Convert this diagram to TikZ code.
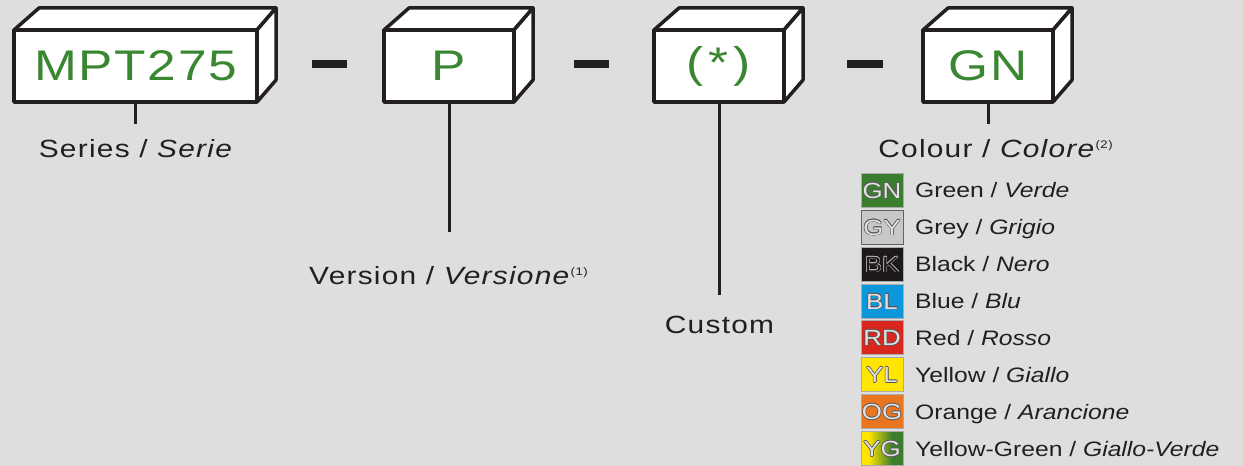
\documentclass[tikz,border=0pt]{standalone}
\usepackage{fontspec}
\setmainfont{Liberation Sans}[FakeStretch=1.18]
\newfontfamily\spacedfont{Liberation Sans}[FakeStretch=1.2,LetterSpace=5]
\newfontfamily\codefont{Liberation Sans}[FakeStretch=1.2,LetterSpace=4]
\usepackage{xcolor}
\usepackage{tikz}
\usetikzlibrary{shapes,positioning}

\definecolor{paper}{RGB}{222,222,222}
\definecolor{ink}{RGB}{35,31,32}
\definecolor{codegreen}{RGB}{58,135,50}
\definecolor{gncol}{RGB}{58,125,47}
\definecolor{gycol}{RGB}{200,200,200}
\definecolor{bkcol}{RGB}{28,25,24}
\definecolor{blcol}{RGB}{12,150,220}
\definecolor{rdcol}{RGB}{217,38,30}
\definecolor{ylcol}{RGB}{255,229,0}
\definecolor{ogcol}{RGB}{232,118,32}
\definecolor{swatchedge}{RGB}{170,170,170}
\definecolor{letterfill}{RGB}{225,225,225}

\pgfdeclarehorizontalshading{ygshade}{100bp}{color(0bp)=(ylcol); color(34bp)=(ylcol); color(62bp)=(gncol); color(100bp)=(gncol)}

% hollow letters: outline copies under the fill
\newcommand{\hcopy}[3]{\rlap{\kern#1\raisebox{#2}{#3}}}
\newcommand{\hollowtext}[3]{{\color{#1}\hcopy{.6bp}{0bp}{#3}\hcopy{-.6bp}{0bp}{#3}\hcopy{0bp}{.6bp}{#3}\hcopy{0bp}{-.6bp}{#3}\hcopy{.45bp}{.45bp}{#3}\hcopy{-.45bp}{.45bp}{#3}\hcopy{.45bp}{-.45bp}{#3}\hcopy{-.45bp}{-.45bp}{#3}}\textcolor{#2}{#3}}
\newcommand{\supnote}[1]{\raisebox{9bp}{\fontsize{11}{11}\selectfont(#1)}}

\tikzset{frontbox/.style={draw=ink,fill=white,line width=3.5bp,line join=round,minimum height=72bp,outer sep=0pt,inner sep=0pt,text=codegreen,font=\codefont\fontsize{43}{43}\selectfont},
  face/.style={draw=ink,fill=white,line width=3.5bp,line join=round},
  stem/.style={draw=ink,line width=3bp},
  caption/.style={anchor=base,inner sep=0pt,text=ink,font=\spacedfont\fontsize{25}{30}\selectfont},
  swatch/.style={draw=swatchedge,line width=1bp,minimum width=42bp,minimum height=34bp,inner sep=0pt,font=\fontsize{22}{22}\selectfont},
  legend/.style={anchor=base west,inner sep=0pt,text=ink,font=\fontsize{21}{25}\selectfont}}

\begin{document}
\begin{tikzpicture}[x=1bp,y=-1bp]
    \fill[paper] (0,0) rectangle (1243,466);
    \useasboundingbox (0,0) rectangle (1243,466);

    % code boxes
    \node[frontbox,minimum width=243bp] (series) at (135.5,66) {MPT275};
    \node[frontbox,minimum width=130bp] (version) at (449,66) {P};
    \node[frontbox,minimum width=130bp] (custom) at (719,66) {(\kern5bp*\kern5bp)};
    \node[frontbox,minimum width=130bp] (colour) at (988,66) {GN};

    \draw[face] (series.north west) -- ++(25,-22) -- ([shift={(19,-22)}]series.north east) -- (series.north east) -- cycle;
    \draw[face] (series.north east) -- ++(19,-22) -- ([shift={(19,-22)}]series.south east) -- (series.south east) -- cycle;
    \draw[face] (version.north west) -- ++(25,-22) -- ([shift={(19,-22)}]version.north east) -- (version.north east) -- cycle;
    \draw[face] (version.north east) -- ++(19,-22) -- ([shift={(19,-22)}]version.south east) -- (version.south east) -- cycle;
    \draw[face] (custom.north west) -- ++(25,-22) -- ([shift={(19,-22)}]custom.north east) -- (custom.north east) -- cycle;
    \draw[face] (custom.north east) -- ++(19,-22) -- ([shift={(19,-22)}]custom.south east) -- (custom.south east) -- cycle;
    \draw[face] (colour.north west) -- ++(25,-22) -- ([shift={(19,-22)}]colour.north east) -- (colour.north east) -- cycle;
    \draw[face] (colour.north east) -- ++(19,-22) -- ([shift={(19,-22)}]colour.south east) -- (colour.south east) -- cycle;

    % hyphens
    \fill[ink] (312,60) rectangle (347,68);
    \fill[ink] (574,60) rectangle (609,68);
    \fill[ink] (847,60) rectangle (883,68);

    % stems
    \coordinate (series-tip) at (135.5,124);
    \coordinate (version-tip) at (449,232);
    \coordinate (custom-tip) at (719,295);
    \coordinate (colour-tip) at (988,124);
    \draw[stem] (series.south) -- (series-tip);
    \draw[stem] (version.south) -- (version-tip);
    \draw[stem] (custom.south) -- (custom-tip);
    \draw[stem] (colour.south) -- (colour-tip);

    % captions
    \node[caption] (series-cap) at (136,158) {Series / \textit{Serie}};
    \node[caption] (version-cap) at (448.5,285) {Version / \textit{Versione}\supnote{1}};
    \node[caption] (custom-cap) at (719.5,334) {Custom};
    \node[caption] (colour-cap) at (995.5,158) {Colour / \textit{Colore}\supnote{2}};

    % colour legend
    \node[swatch,fill=gncol] (gn) at (882,190.5) {\hollowtext{ink!75}{letterfill}{GN}};
    \node[swatch,fill=gycol,draw=ink!70] (gy) at (882,227.5) {\hollowtext{ink!75}{letterfill}{GY}};
    \node[swatch,fill=bkcol] (bk) at (882,264.5) {\hollowtext{letterfill!80!black}{bkcol}{BK}};
    \node[swatch,fill=blcol] (bl) at (882,301.5) {\hollowtext{ink!75}{letterfill}{BL}};
    \node[swatch,fill=rdcol] (rd) at (882,338) {\hollowtext{ink!75}{letterfill}{RD}};
    \node[swatch,fill=ylcol] (yl) at (882,375) {\hollowtext{ink!75}{letterfill}{YL}};
    \node[swatch,fill=ogcol] (og) at (882,412) {\hollowtext{ink!75}{letterfill}{OG}};
    \node[swatch,shade,shading=ygshade] (yg) at (882,449) {\hollowtext{ink!75}{letterfill}{YG}};

    \node[legend] (gn-text) at (915,198) {Green / \textit{Verde}};
    \node[legend] (gy-text) at (915,235) {Grey / \textit{Grigio}};
    \node[legend] (bk-text) at (915,272) {Black / \textit{Nero}};
    \node[legend] (bl-text) at (915,309) {Blue / \textit{Blu}};
    \node[legend] (rd-text) at (915,345.5) {Red / \textit{Rosso}};
    \node[legend] (yl-text) at (915,382.5) {Yellow / \textit{Giallo}};
    \node[legend] (og-text) at (915,419.5) {Orange / \textit{Arancione}};
    \node[legend] (yg-text) at (915,456.5) {Yellow-Green / \textit{Giallo-Verde}};
\end{tikzpicture}
\end{document}
